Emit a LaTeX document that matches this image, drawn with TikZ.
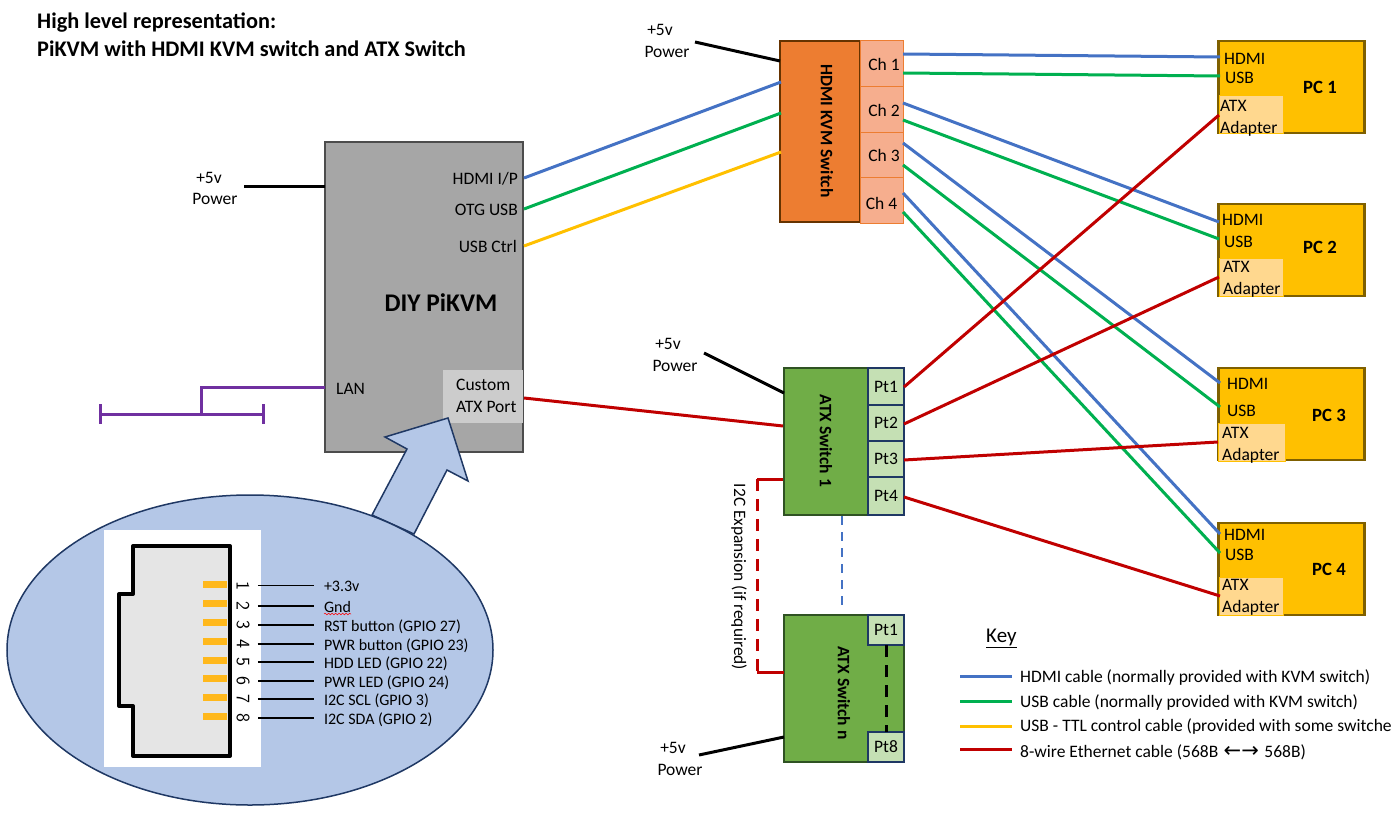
\documentclass[tikz,border=0pt]{standalone}
\usepackage{fontspec}
\setmainfont{Carlito}
\newfontfamily\arrowfont{DejaVu Sans}
\usepackage{tikz}
\usetikzlibrary{shapes.geometric, positioning, decorations.pathmorphing}
\definecolor{hdmiblue}{HTML}{4472C4}
\definecolor{usbgreen}{HTML}{00B050}
\definecolor{ttlyellow}{HTML}{FFC000}
\definecolor{atxred}{HTML}{C00000}
\definecolor{lanpurple}{HTML}{7030A0}
\definecolor{calloutblue}{HTML}{B4C7E7}
\definecolor{navy}{HTML}{1F3864}
\tikzset{
  txt/.style={font=\fontsize{17.5}{21}\selectfont, inner sep=0pt, text height=13pt, text depth=0pt},
  lefttxt/.style={txt, anchor=west},
  righttxt/.style={txt, anchor=east},
  switchname/.style={font=\fontsize{17.5}{21}\selectfont\bfseries, rotate=-90, inner sep=0pt},
  pcname/.style={font=\fontsize{18.7}{22}\selectfont\bfseries, inner sep=0pt},
  pibox/.style={rectangle, draw=black!70, line width=2pt, fill=black!35, minimum width=198pt, minimum height=310pt},
  kvmbox/.style={rectangle, draw=orange!40!black, line width=2pt, fill={rgb,255:red,237;green,125;blue,49}, minimum width=80pt, minimum height=181pt},
  chport/.style={rectangle, draw={rgb,255:red,237;green,125;blue,49}, line width=1pt, fill={rgb,255:red,246;green,174;blue,142}, minimum width=43pt, font=\fontsize{17.5}{21}\selectfont, inner sep=0pt, outer sep=0pt},
  atxbox/.style={rectangle, draw={rgb,255:red,47;green,82;blue,35}, line width=2pt, fill={rgb,255:red,112;green,173;blue,71}, minimum width=120pt, minimum height=147pt},
  ptport/.style={rectangle, draw=navy, line width=2pt, fill={rgb,255:red,197;green,224;blue,180}, minimum width=36pt, font=\fontsize{17.5}{21}\selectfont, inner sep=0pt, outer sep=0pt},
  pcbox/.style={rectangle, draw={rgb,255:red,127;green,96;blue,0}, line width=2.5pt, fill=ttlyellow, minimum width=146pt, minimum height=92pt},
  adapter/.style={rectangle, draw=ttlyellow, line width=1pt, fill={rgb,255:red,255;green,216;blue,143}, minimum width=64pt, minimum height=38pt},
  hdmi/.style={draw=hdmiblue, line width=3pt},
  usb/.style={draw=usbgreen, line width=3pt},
  ttl/.style={draw=ttlyellow, line width=3pt},
  eth/.style={draw=atxred, line width=3pt},
  lan/.style={draw=lanpurple, line width=3pt},
  power/.style={draw=black, line width=3pt},
  pinnum/.style={font=\fontsize{19}{22}\sffamily, rotate=-90, inner sep=0pt, outer ysep=8.5pt},
  pinname/.style={font=\fontsize{16}{19}\selectfont, anchor=west, inner sep=0pt, outer xsep=10pt, text height=12pt, text depth=0pt},
  pinwire/.style={draw=black, line width=1.5pt},
  pad/.style={rectangle, fill={rgb,255:red,255;green,184;blue,28}, minimum width=24pt, minimum height=7pt, inner sep=0pt}
}
\begin{document}
\begin{tikzpicture}[x=1pt, y=-1pt]
    \useasboundingbox (0,0) rectangle (1391,813);

    % Title
    \node [font=\fontsize{22.3}{26}\selectfont\bfseries, anchor=west, inner sep=0pt] (title1) at (37,23) {High level representation:};
    \node [font=\fontsize{22.3}{26}\selectfont\bfseries, anchor=west, inner sep=0pt] (title2) at (37,49) {PiKVM with HDMI KVM switch and ATX Switch};

    % PiKVM
    \node [pibox] (pikvm) at (424,297) {};
    \node [rectangle, fill=black!20, minimum width=80pt, minimum height=53pt] (atxport) at (483,396) {};
    \node [font=\fontsize{25.4}{30}\selectfont\bfseries, inner sep=0pt] (pikvmName) at (441,303) {DIY PiKVM};
    \node [righttxt] (hdmiip) at (518,178) {HDMI I/P};
    \node [righttxt] (otgusb) at (518,209) {OTG USB};
    \node [righttxt] (usbctrl) at (517,246) {USB Ctrl};
    \node [lefttxt] (lanLabel) at (336,388) {LAN};
    \node [lefttxt] (customLabel) at (456,384) {Custom};
    \node [lefttxt] (atxportLabel) at (456,406) {ATX Port};
    \node [txt] (pw1a) at (209,177) {+5v};
    \node [txt] (pw1b) at (215,198) {Power};

    % LAN bus
    \coordinate (lanIn) at (325,387);
    \coordinate (busJoin) at (201,414);
    \coordinate (busL) at (100,414);
    \coordinate (busR) at (263,414);
    \coordinate (busLa) at (100,404);
    \coordinate (busLb) at (100,424);
    \coordinate (busRa) at (263,404);
    \coordinate (busRb) at (263,424);
    \draw[lan] (lanIn) -| (busJoin);
    \draw[lan] (busL) -- (busR);
    \draw[lan] (busLa) -- (busLb);
    \draw[lan] (busRa) -- (busRb);

    % Callout with the connector
    \draw[draw=navy, line width=1.5pt, fill=calloutblue] (372,515) -- (407,449) -- (385,437) -- (448,418) -- (468,481) -- (447,470) -- (414,534) -- cycle;
    \node [ellipse, draw=navy, line width=1.5pt, fill=calloutblue, minimum width=486pt, minimum height=310pt, inner sep=0pt] (callout) at (250,650) {};
    \node [rectangle, fill=white, minimum width=157pt, minimum height=237pt, inner sep=0pt] (jack) at (182.5,648.5) {};
    \draw[line width=4pt, draw=black, fill=black!10, line join=round] (133,546) -- (230,546) -- (230,756) -- (133,756) -- (133,706) -- (119,706) -- (119,594) -- (133,594) -- cycle;
    \node [pad] (pad1) at (215,584.5) {};
    \node [pad] (pad2) at (215,603.5) {};
    \node [pad] (pad3) at (215,622.5) {};
    \node [pad] (pad4) at (215,641) {};
    \node [pad] (pad5) at (215,660) {};
    \node [pad] (pad6) at (215,678.7) {};
    \node [pad] (pad7) at (215,697.5) {};
    \node [pad] (pad8) at (215,716.7) {};
    \node [pinnum] (num1) at (243,585.7) {1};
    \node [pinnum] (num2) at (243,606) {2};
    \node [pinnum] (num3) at (243,625) {3};
    \node [pinnum] (num4) at (243,644) {4};
    \node [pinnum] (num5) at (243,662) {5};
    \node [pinnum] (num6) at (243,681) {6};
    \node [pinnum] (num7) at (243,699) {7};
    \node [pinnum] (num8) at (243,718) {8};
    \node [pinname] (sig1) at (314,585.7) {+3.3v};
    \node [pinname] (sig2) at (314,606) {Gnd};
    \node [pinname] (sig3) at (314,625) {RST button (GPIO 27)};
    \node [pinname] (sig4) at (314,644) {PWR button (GPIO 23)};
    \node [pinname] (sig5) at (314,662) {HDD LED (GPIO 22)};
    \node [pinname] (sig6) at (314,681) {PWR LED (GPIO 24)};
    \node [pinname] (sig7) at (314,699) {I2C SCL (GPIO 3)};
    \node [pinname] (sig8) at (314,718) {I2C SDA (GPIO 2)};
    \draw[pinwire] (num1.north) -- (sig1.west);
    \draw[pinwire] (num2.north) -- (sig2.west);
    \draw[pinwire] (num3.north) -- (sig3.west);
    \draw[pinwire] (num4.north) -- (sig4.west);
    \draw[pinwire] (num5.north) -- (sig5.west);
    \draw[pinwire] (num6.north) -- (sig6.west);
    \draw[pinwire] (num7.north) -- (sig7.west);
    \draw[pinwire] (num8.north) -- (sig8.west);
    \draw[draw=red, line width=0.5pt, decorate, decoration={snake, amplitude=0.8pt, segment length=3.5pt}] (324,614) -- (351,614);

    % HDMI KVM switch
    \node [kvmbox] (kvm) at (820,131.5) {};
    \node [switchname] (kvmName) at (827,131) {HDMI KVM Switch};
    \node [chport, minimum height=46pt] (ch1) at (881.5,64) {\kern5pt Ch 1};
    \node [chport, minimum height=46pt, below=0pt of ch1] (ch2) {\kern5pt Ch 2};
    \node [chport, minimum height=45pt, below=0pt of ch2] (ch3) {\kern5pt Ch 3};
    \node [chport, minimum height=45pt, below=0pt of ch3, text height=17pt, text depth=0pt] (ch4) {Ch 4};
    \node [txt] (pw2a) at (660,29) {+5v};
    \node [txt] (pw2b) at (667,51) {Power};

    % ATX switch 1
    \node [atxbox] (atx1) at (844,441.5) {};
    \node [switchname] (atx1Name) at (826,441) {ATX Switch 1};
    \node [ptport, minimum height=37pt] (pt1) at (886,386.5) {Pt1};
    \node [ptport, minimum height=36pt, below=0pt of pt1] (pt2) {Pt2};
    \node [ptport, minimum height=36pt, below=0pt of pt2] (pt3) {Pt3};
    \node [ptport, minimum height=38pt, below=0pt of pt3] (pt4) {Pt4};
    \node [txt] (pw3a) at (668,343) {+5v};
    \node [txt] (pw3b) at (675,365) {Power};

    % ATX switch n
    \node [atxbox] (atxn) at (844,688.5) {};
    \node [switchname] (atxnName) at (844,693) {ATX Switch n};
    \node [ptport, minimum height=30pt] (ptn1) at (886,630) {Pt1};
    \node [ptport, minimum height=30pt] (ptn8) at (886,747) {Pt8};
    \node [txt] (pw4a) at (673,747) {+5v};
    \node [txt] (pw4b) at (680,769) {Power};
    \node [font=\fontsize{17.4}{21}\selectfont, rotate=-90, inner sep=0pt] (i2cLabel) at (739,577) {I2C Expansion (if required)};

    % PCs
    \node [pcbox] (pc1) at (1291.5,87) {};
    \node [adapter] (ad1) at (1251,115) {};
    \node [pcname] (pc1Name) at (1320,87) {PC 1};
    \node [lefttxt] (pc1h) at (1224,58) {HDMI};
    \node [lefttxt] (pc1u) at (1225,77) {USB};
    \node [lefttxt] (pc1a) at (1220,105) {ATX};
    \node [lefttxt] (pc1b) at (1220,127) {Adapter};

    \node [pcbox] (pc2) at (1291.5,250) {};
    \node [adapter] (ad2) at (1251,277.5) {};
    \node [pcname] (pc2Name) at (1320,247) {PC 2};
    \node [lefttxt] (pc2h) at (1222,219) {HDMI};
    \node [lefttxt] (pc2u) at (1224,241) {USB};
    \node [lefttxt] (pc2a) at (1223,266) {ATX};
    \node [lefttxt] (pc2b) at (1223,288) {Adapter};

    \node [pcbox] (pc3) at (1291.5,414) {};
    \node [adapter, minimum width=67pt] (ad3) at (1251.5,442) {};
    \node [pcname] (pc3Name) at (1329,415) {PC 3};
    \node [lefttxt] (pc3h) at (1227,383) {HDMI};
    \node [lefttxt] (pc3u) at (1227,410) {USB};
    \node [lefttxt] (pc3a) at (1222,432) {ATX};
    \node [lefttxt] (pc3b) at (1222,454) {Adapter};

    \node [pcbox] (pc4) at (1291.5,569) {};
    \node [adapter] (ad4) at (1251,596.5) {};
    \node [pcname] (pc4Name) at (1329,569) {PC 4};
    \node [lefttxt] (pc4h) at (1224,534) {HDMI};
    \node [lefttxt] (pc4u) at (1225,554) {USB};
    \node [lefttxt] (pc4a) at (1222,584) {ATX};
    \node [lefttxt] (pc4b) at (1222,606) {Adapter};

    % Where the cables end
    \coordinate (pw1) at (244,187);
    \coordinate (pw1to) at (325,187);
    \coordinate (pw2) at (695,42);
    \coordinate (pw2to) at (780,61);
    \coordinate (pw3) at (704,353);
    \coordinate (pw3to) at (784,393);
    \coordinate (pw4) at (699,755);
    \coordinate (pw4to) at (784,737);
    \coordinate (piHdmi) at (524,178);
    \coordinate (piUsb) at (524,209);
    \coordinate (piTtl) at (524,246);
    \coordinate (piAtx) at (524,398);
    \coordinate (kvmHdmi) at (781,82);
    \coordinate (kvmUsb) at (781,113);
    \coordinate (kvmTtl) at (781,152);
    \coordinate (atxIn) at (783,426);
    \coordinate (ch1h) at (903,54);
    \coordinate (ch1u) at (903,73);
    \coordinate (ch2h) at (903,103);
    \coordinate (ch2u) at (903,120);
    \coordinate (ch3h) at (903,143);
    \coordinate (ch3u) at (903,165);
    \coordinate (ch4h) at (903,193);
    \coordinate (ch4u) at (903,212);
    \coordinate (pc1hIn) at (1220,57);
    \coordinate (pc1uIn) at (1220,76);
    \coordinate (pc2hIn) at (1219,222);
    \coordinate (pc2uIn) at (1219,239);
    \coordinate (pc3hIn) at (1220,383);
    \coordinate (pc3uIn) at (1220,407);
    \coordinate (pc4hIn) at (1220,534);
    \coordinate (pc4uIn) at (1220,553);
    \coordinate (pt1out) at (904,387);
    \coordinate (pt2out) at (904,424);
    \coordinate (pt3out) at (904,460);
    \coordinate (pt4out) at (904,497);
    \coordinate (ad1In) at (1219,115);
    \coordinate (ad2In) at (1219,277);
    \coordinate (ad3In) at (1218,442);
    \coordinate (ad4In) at (1220,596);
    \coordinate (i2cA) at (783,479);
    \coordinate (i2cB) at (784,672);
    \coordinate (i2cAa) at (757,479);
    \coordinate (i2cBa) at (757,672);
    \coordinate (linkA) at (842,516);
    \coordinate (linkB) at (842,608);

    % Edges
    \draw[power] (pw1) -- (pw1to);
    \draw[power] (pw2) -- (pw2to);
    \draw[power] (pw3) -- (pw3to);
    \draw[power] (pw4) -- (pw4to);
    \draw[hdmi] (piHdmi) -- (kvmHdmi);
    \draw[usb] (piUsb) -- (kvmUsb);
    \draw[ttl] (piTtl) -- (kvmTtl);
    \draw[hdmi] (ch1h) -- (pc1hIn);
    \draw[usb] (ch1u) -- (pc1uIn);
    \draw[hdmi] (ch2h) -- (pc2hIn);
    \draw[usb] (ch2u) -- (pc2uIn);
    \draw[hdmi] (ch3h) -- (pc3hIn);
    \draw[usb] (ch3u) -- (pc3uIn);
    \draw[hdmi] (ch4h) -- (pc4hIn);
    \draw[usb] (ch4u) -- (pc4uIn);
    \draw[eth] (piAtx) -- (atxIn);
    \draw[eth] (pt1out) -- (ad1In);
    \draw[eth] (pt2out) -- (ad2In);
    \draw[eth] (pt3out) -- (ad3In);
    \draw[eth] (pt4out) -- (ad4In);
    \draw[eth] (i2cA) -- (i2cAa);
    \draw[eth] (i2cB) -- (i2cBa);
    \draw[eth, dash pattern=on 12pt off 8pt] (i2cAa) -- (i2cBa);
    \draw[draw=hdmiblue, line width=1.5pt, dash pattern=on 9pt off 7pt] (linkA) -- (linkB);
    \draw[draw=black, line width=3pt, dash pattern=on 12pt off 8pt] (ptn1) -- (ptn8);

    % Key
    \node [font=\fontsize{21}{25}\selectfont, anchor=west, inner sep=0pt] (keyTitle) at (986,638) {\underline{Key}};
    \node [lefttxt] (key1) at (1020,676) {HDMI cable (normally provided with KVM switch)};
    \node [lefttxt] (key2) at (1020,701) {USB cable (normally provided with KVM switch)};
    \node [lefttxt] (key3) at (1020,725) {USB - TTL control cable (provided with some switche};
    \node [lefttxt] (key4) at (1020,751) {8-wire Ethernet cable (568B\kern1.5pt{} {\fontsize{21}{21}\arrowfont ←→}\kern1.5pt{} 568B)};
    \coordinate (k1) at (960,676);
    \coordinate (k2) at (960,701);
    \coordinate (k3) at (960,726);
    \coordinate (k4) at (960,749);
    \coordinate (k1e) at (1012,676);
    \coordinate (k2e) at (1012,701);
    \coordinate (k3e) at (1012,726);
    \coordinate (k4e) at (1012,749);
    \draw[hdmi] (k1) -- (k1e);
    \draw[usb] (k2) -- (k2e);
    \draw[ttl] (k3) -- (k3e);
    \draw[eth] (k4) -- (k4e);
\end{tikzpicture}
\end{document}
